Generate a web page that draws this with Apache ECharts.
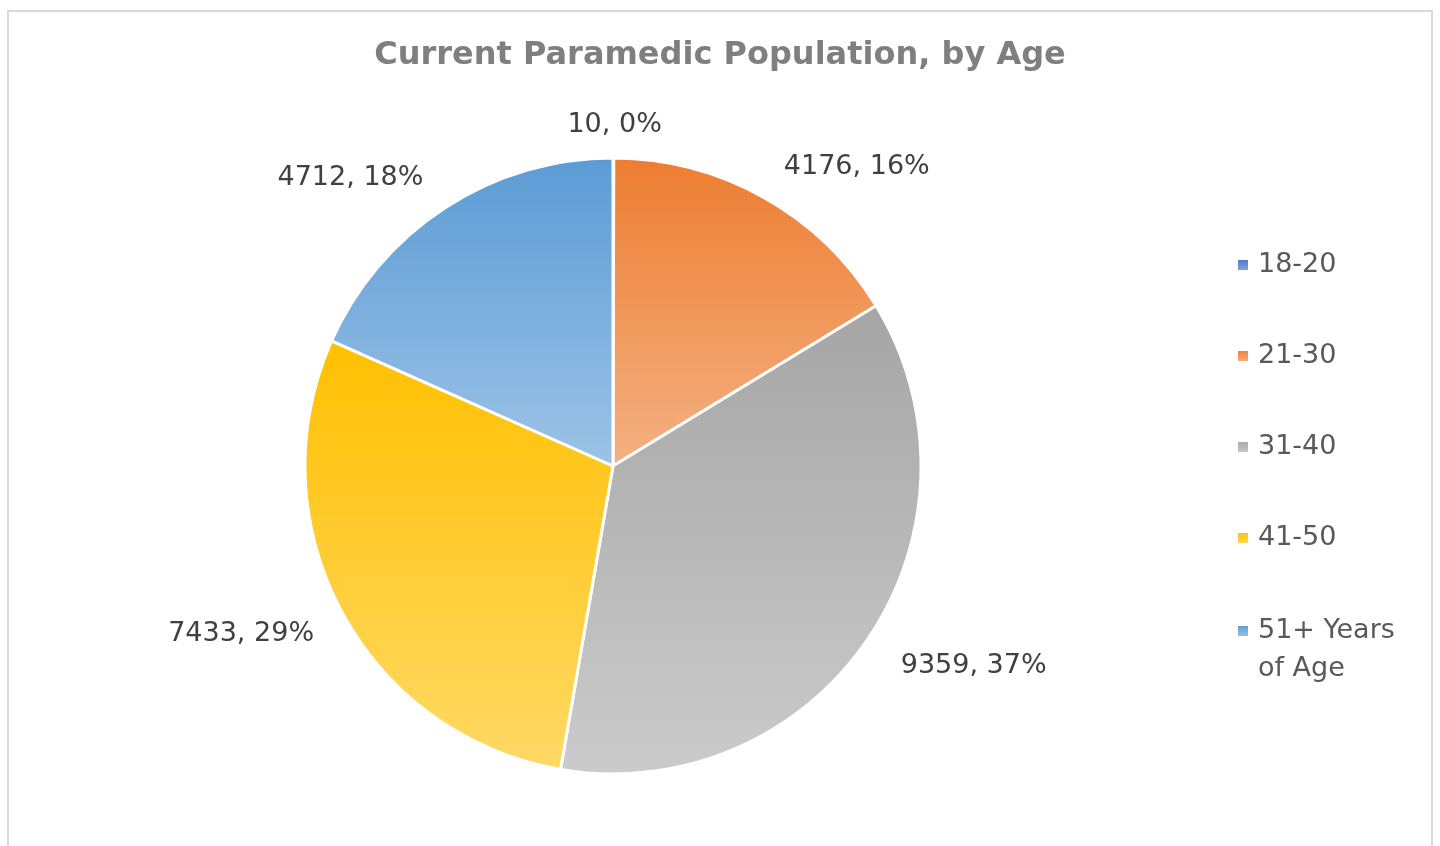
<!DOCTYPE html>
<html>
<head>
<meta charset="utf-8">
<script src="https://cdn.jsdelivr.net/npm/echarts@6/dist/echarts.min.js"></script>
<style>
html,body{margin:0;padding:0;background:#fff;}
#main{width:1440px;height:846px;}
</style>
</head>
<body>
<div id="main"></div>
<script>
var titleText = 'Current Paramedic Population, by Age';
var categories = ['18-20', '21-30', '31-40', '41-50', '51+ Years of Age'];
var values = [10, 4176, 9359, 7433, 4712];
var topColors = ['#4472C4', '#ED7D31', '#A5A5A5', '#FFC000', '#5B9BD5'];
var bottomColors = ['#8FAADC', '#F4B183', '#CBCBCB', '#FFD966', '#9DC3E6'];

var FONT = 'DejaVu Sans';

function grad(i) {
  return new echarts.graphic.LinearGradient(0, 0, 0, 1, [
    {offset: 0, color: topColors[i]},
    {offset: 1, color: bottomColors[i]}
  ]);
}

var pieData = categories.map(function (c, i) {
  var d = {name: c, value: values[i], itemStyle: {color: grad(i)}};
  if (i === 0) d.label = {offset: [-46, 7]};
  if (i === 3) d.label = {offset: [8, 4]};
  return d;
});

var legendText = {fontFamily: FONT, fontSize: 27, color: '#595959', lineHeight: 38, padding: [0, 0, 0, 4]};

var chart = echarts.init(document.getElementById('main'));
chart.setOption({
  animation: false,
  color: topColors,
  graphic: [{
    type: 'rect', silent: true,
    shape: {x: 8, y: 11, width: 1424, height: 900},
    style: {fill: 'none', stroke: '#d9d9d9', lineWidth: 2}
  }],
  title: {
    text: titleText,
    left: 'center',
    top: 35,
    textStyle: {fontFamily: FONT, fontSize: 32, fontWeight: 'bold', color: '#7f7f7f'}
  },
  legend: [{
    orient: 'vertical',
    left: 1231,
    top: 241,
    itemWidth: 12, itemHeight: 12,
    itemGap: 53,
    icon: 'rect',
    data: categories.slice(0, 4),
    textStyle: legendText
  }, {
    orient: 'vertical',
    left: 1231,
    top: 569,
    itemWidth: 12, itemHeight: 12,
    icon: 'rect',
    data: categories.slice(4),
    formatter: function () { return ' \n51+ Years\nof Age'; },
    textStyle: legendText
  }],
  series: [{
    type: 'pie',
    center: [613, 466],
    radius: 308,
    startAngle: 90,
    clockwise: true,
    avoidLabelOverlap: false,
    percentPrecision: 0,
    itemStyle: {borderColor: '#ffffff', borderWidth: 3},
    label: {
      show: true,
      position: 'outside',
      formatter: '{c}, {d}%',
      fontFamily: FONT,
      fontSize: 27,
      color: '#404040',
      distanceToLabelLine: 0,
      offset: [0, 4]
    },
    labelLine: {show: false, length: 40, length2: 0},
    emphasis: {disabled: true},
    data: pieData
  }]
});
</script>
</body>
</html>
